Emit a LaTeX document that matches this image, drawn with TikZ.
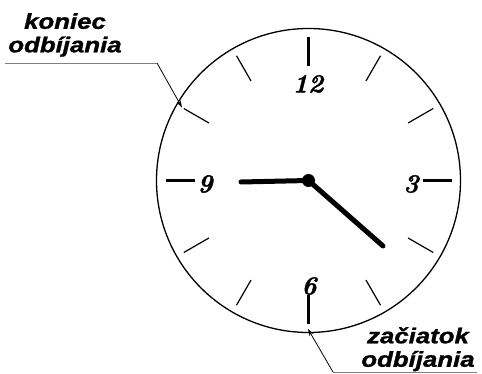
\documentclass[tikz,border=0pt]{standalone}
\usepackage{fontspec}
\newfontfamily\notefont[BoldItalicFeatures={FakeBold=1.2}]{Liberation Sans}
\newfontfamily\numfont[BoldItalicFeatures={FakeBold=1.5}]{Latin Modern Roman}
\usetikzlibrary{arrows.meta}

\tikzset{
  tickminor/.style={line width=1.2pt},
  tickmajor/.style={line width=2.8pt},
  numtext/.style={font=\numfont\fontsize{26}{26}\selectfont\bfseries\itshape, inner sep=0pt},
  notetext/.style={font=\notefont\fontsize{21.5}{23.5}\selectfont\bfseries\itshape,
                   align=center, inner sep=0pt, xscale=1.2},
  hand/.style={line width=5pt, line cap=round},
  leader/.style={line width=0.8pt, -{Stealth[length=7pt,width=4.5pt]}},
}

\begin{document}
\begin{tikzpicture}[x=1pt, y=-1pt] % 以像素为单位, y 轴向下
    \useasboundingbox (0,0) rectangle (482,374);

    % 表盘中心与半径
    \coordinate (O) at (308.5,180.5);
    \pgfmathsetmacro{\clockR}{152}
    \draw[line width=1.3pt] (O) circle (\clockR); % 表盘

    % 刻度
    \foreach \h in {1,2,4,5,7,8,10,11}
        \draw[tickminor, shift={(O)}] (30*\h-90:115) -- (30*\h-90:144);
    \foreach \h in {3,6,9,12}
        \draw[tickmajor, shift={(O)}] (30*\h-90:114) -- (30*\h-90:143);

    % 数字
    \node[numtext] (n12) at (308,84) {12};
    \node[numtext] (n3) at (411,184) {3};
    \node[numtext] (n6) at (309,286) {6};
    \node[numtext] (n9) at (205,184) {9};

    % 指针
    \coordinate (hourEnd) at (241,182);
    \coordinate (minEnd) at (383,246);
    \draw[hand] (O) -- (hourEnd); % 时针
    \draw[hand] (O) -- (minEnd);  % 分针
    \fill (O) circle (6.5);

    % 上方标注
    \node[notetext, anchor=north] (koniec) at (65,13) {koniec\\odbíjania};
    \coordinate (k_a) at (5,63);
    \coordinate (k_b) at (157,63);
    \coordinate (k_tip) at (182,107.5);
    \draw[gray, line width=0.8pt] (k_a) -- (k_b);
    \draw[leader] (k_b) -- (k_tip);

    % 下方标注
    \node[notetext, anchor=north] (zaciatok) at (418,327) {začiatok\\odbíjania};
    \coordinate (z_a) at (333,372);
    \coordinate (z_b) at (477,372);
    \coordinate (z_tip) at (308,329);
    \draw[gray, line width=0.8pt] (z_a) -- (z_b);
    \draw[leader] (z_a) -- (z_tip);
\end{tikzpicture}
\end{document}
